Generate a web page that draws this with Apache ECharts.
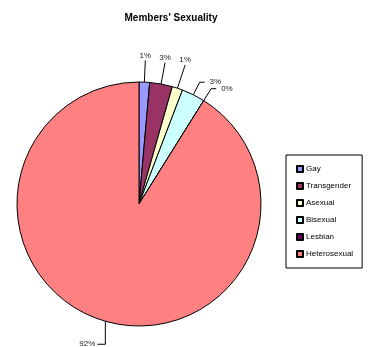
<!DOCTYPE html>
<html>
<head>
<meta charset="utf-8">
<script src="https://cdn.jsdelivr.net/npm/echarts@6/dist/echarts.min.js"></script>
<style>
html, body { margin: 0; padding: 0; background: #fff; }
#chart { width: 373px; height: 347px; }
</style>
</head>
<body>
<div id="chart"></div>
<script>
// 成员性取向 (数据读自原图)
var categories = ['Gay', 'Transgender', 'Asexual', 'Bisexual', 'Lesbian', 'Heterosexual'];
var shares = [1.4, 3.0, 1.4, 3.1, 0, 91.1];
var pctLabels = ['1%', '3%', '1%', '3%', '0%', '92%'];
var colors = ['#9999FF', '#993366', '#FFFFCC', '#CCFFFF', '#660066', '#FF8080'];

var myChart = echarts.init(document.getElementById('chart'));

var pieData = [];
for (var i in categories) {
	pieData.push({
		name: categories[i],
		value: shares[i],
		itemStyle: { color: colors[i] }
	});
}

// 标签放置: 顶部的标签放在引线上方, 最大的扇区引线竖直向下
function placeLabel(params) {
	var pts = params.labelLinePoints;
	if (!pts) {
		return;
	}
	var p0 = pts[0], p1 = pts[1];
	var idx = params.dataIndex;
	if (idx <= 2) {
		var k = idx == 2 ? 1.75 : 1.55;
		var q = [p0[0] + (p1[0] - p0[0]) * k, p0[1] + (p1[1] - p0[1]) * k];
		return {
			x: q[0],
			y: q[1] - 1,
			align: 'center',
			verticalAlign: 'bottom',
			labelLinePoints: [p0, q, q]
		};
	}
	if (idx == 5) {
		var q2 = [p0[0], p0[1] + 23];
		var r = [p0[0] - 8, q2[1]];
		return {
			x: r[0] - 2,
			y: r[1],
			align: 'right',
			verticalAlign: 'middle',
			labelLinePoints: [p0, q2, r]
		};
	}
}

var option = {
	animation: false,
	title: {
		text: "Members' Sexuality",
		left: 166,
		top: 8,
		textAlign: 'center',
		textStyle: {
			fontFamily: 'Liberation Sans',
			fontSize: 10,
			fontWeight: 'bold',
			color: '#000'
		}
	},
	legend: {
		orient: 'vertical',
		left: 286,
		top: 155,
		data: categories,
		itemWidth: 6,
		itemHeight: 6,
		itemGap: 9,
		padding: [10, 9, 10, 10],
		borderColor: '#000',
		borderWidth: 1,
		icon: 'rect',
		textStyle: {
			fontFamily: 'Liberation Sans',
			fontSize: 8,
			color: '#000',
			padding: [0, 0, 0, -2]
		}
	},
	series: [{
		name: '',
		type: 'pie',
		center: [139, 204],
		radius: 122,
		startAngle: 90,
		clockwise: true,
		avoidLabelOverlap: false,
		stillShowZeroSum: true,
		minShowLabelAngle: 0,
		itemStyle: {
			borderColor: '#000',
			borderWidth: 1
		},
		label: {
			show: true,
			position: 'outside',
			fontFamily: 'Liberation Sans',
			fontSize: 8,
			color: '#222',
			formatter: function (p) {
				return pctLabels[p.dataIndex];
			}
		},
		labelLine: {
			show: true,
			length: 14,
			length2: 5,
			lineStyle: { color: '#000', width: 1 }
		},
		labelLayout: placeLabel,
		data: pieData
	}]
};
myChart.setOption(option);
</script>
</body>
</html>
